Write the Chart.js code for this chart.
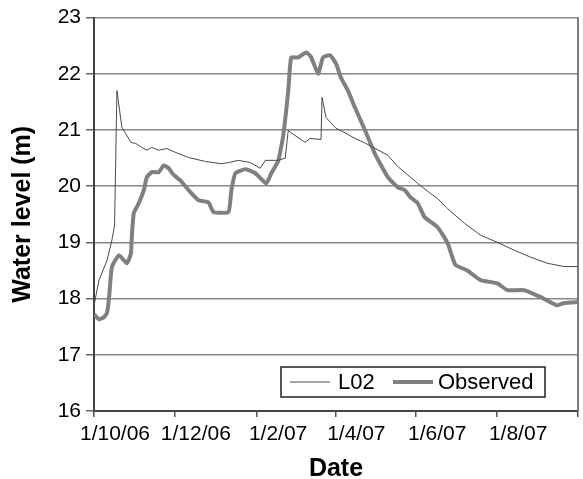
<!DOCTYPE html>
<html>
<head>
<meta charset="utf-8">
<script src="https://cdn.jsdelivr.net/npm/chart.js@4.4.0/dist/chart.umd.min.js"></script>
<style>
  html, body { margin: 0; padding: 0; background: #fff; }
  #wrap { width: 583px; height: 479px; }
</style>
</head>
<body>
<div id="wrap"><canvas id="c" width="583" height="479"></canvas></div>
<script>
// Day 0 of the x axis is 1 October 2006.
const START = Date.UTC(2006, 9, 1);
const DAY = 86400000;

const tickDates  = ['2006-10-01', '2006-12-01', '2007-02-01', '2007-04-01', '2007-06-01', '2007-08-01', '2007-10-01'];
const tickLabels = ['1/10/06', '1/12/06', '1/2/07', '1/4/07', '1/6/07', '1/8/07', ''];

// Simulated level at L02 (days since start, metres)
const l02Day   = [0, 3.8, 9.8, 13.5, 15.5, 17.3, 21.0, 27.8, 31.5, 36.0, 39.8, 43.6, 48.8, 54.8, 61.6, 71.3, 84.1, 96.1, 101.4, 108.9, 117.9, 125.4, 129.2, 138.9, 144.2, 146.5, 148.7, 159.2, 163.0, 171.2, 172.0, 175.0, 182.5, 189.3, 196.8, 204.3, 221.6, 229.1, 244.1, 253.8, 259.1, 266.6, 279.4, 291.4, 304.2, 317.0, 329.0, 341.7, 354.5, 365];
const l02Level = [17.88, 18.33, 18.68, 19.04, 19.3, 21.7, 21.05, 20.78, 20.76, 20.69, 20.64, 20.69, 20.64, 20.67, 20.6, 20.51, 20.44, 20.4, 20.42, 20.46, 20.42, 20.32, 20.46, 20.46, 20.5, 20.99, 20.95, 20.78, 20.85, 20.83, 21.58, 21.22, 21.03, 20.95, 20.85, 20.77, 20.55, 20.35, 20.05, 19.87, 19.78, 19.6, 19.34, 19.13, 19.0, 18.86, 18.74, 18.63, 18.57, 18.57];

// Observed level (days since start, metres)
const obsDay   = [0, 3.8, 7.5, 9.8, 11.3, 13.5, 18.8, 24.8, 27.8, 28.5, 30.0, 33.8, 37.6, 39.8, 43.6, 48.8, 52.6, 56.3, 60.1, 65.3, 71.3, 78.9, 86.4, 90.1, 101.4, 103.6, 106.6, 114.2, 121.7, 129.9, 133.7, 138.9, 142.7, 146.5, 148.7, 154.0, 160.0, 163.7, 169.0, 172.7, 178.0, 182.5, 186.3, 191.5, 196.8, 204.3, 211.8, 221.6, 229.1, 234.3, 238.8, 244.1, 249.3, 259.1, 266.6, 272.6, 281.6, 291.4, 304.2, 311.7, 324.5, 336.5, 349.2, 354.5, 365];
const obsLevel = [17.72, 17.63, 17.67, 17.75, 18.0, 18.56, 18.77, 18.63, 18.8, 19.09, 19.52, 19.7, 19.93, 20.16, 20.25, 20.25, 20.37, 20.32, 20.2, 20.1, 19.93, 19.75, 19.71, 19.54, 19.54, 19.93, 20.23, 20.3, 20.23, 20.05, 20.23, 20.45, 20.9, 21.7, 22.29, 22.29, 22.38, 22.3, 22.0, 22.29, 22.33, 22.18, 21.93, 21.7, 21.4, 21.0, 20.58, 20.16, 19.98, 19.93, 19.8, 19.7, 19.45, 19.27, 18.99, 18.6, 18.5, 18.33, 18.27, 18.15, 18.15, 18.03, 17.88, 17.92, 17.94];

const tickDays = tickDates.map(d => (Date.parse(d + 'T00:00:00Z') - START) / DAY);
const pts = (xs, ys) => xs.map((x, i) => ({ x: x, y: ys[i] }));

const FONT = "'Liberation Sans', Arial, sans-serif";

// Closes the plot frame on the right side.
const framePlugin = {
  id: 'frame',
  beforeDatasetsDraw(chart) {
    const { ctx, chartArea: a } = chart;
    ctx.save();
    ctx.strokeStyle = '#555';
    ctx.lineWidth = 1.5;
    ctx.beginPath();
    ctx.moveTo(a.right, a.top);
    ctx.lineTo(a.right, a.bottom);
    ctx.stroke();
    ctx.restore();
  }
};

// Boxed legend in the lower right of the plot area.
const boxLegend = {
  id: 'boxLegend',
  afterDatasetsDraw(chart) {
    const { ctx, chartArea: a } = chart;
    const w = 264, h = 30;
    const x = a.right - 33 - w, y = a.bottom - 14 - h;
    ctx.save();
    ctx.fillStyle = '#fff';
    ctx.fillRect(x, y, w, h);
    ctx.strokeStyle = '#222';
    ctx.lineWidth = 1.5;
    ctx.strokeRect(x, y, w, h);
    ctx.font = '22px ' + FONT;
    ctx.fillStyle = '#000';
    ctx.textBaseline = 'middle';
    const cy = y + h / 2;
    const items = [
      { ds: chart.data.datasets[0], lx: x + 9,   tx: x + 57 },
      { ds: chart.data.datasets[1], lx: x + 112, tx: x + 157 }
    ];
    items.forEach(it => {
      ctx.strokeStyle = it.ds.borderColor;
      ctx.lineWidth = it.ds.borderWidth;
      ctx.beginPath();
      ctx.moveTo(it.lx, cy);
      ctx.lineTo(it.lx + 40, cy);
      ctx.stroke();
      ctx.fillText(it.ds.label, it.tx, cy + 1);
    });
    ctx.restore();
  }
};

new Chart(document.getElementById('c'), {
  type: 'line',
  data: {
    datasets: [
      {
        label: 'L02',
        data: pts(l02Day, l02Level),
        borderColor: '#4a4a4a',
        borderWidth: 1,
        pointRadius: 0,
        tension: 0,
        order: 0
      },
      {
        label: 'Observed',
        data: pts(obsDay, obsLevel),
        borderColor: '#808080',
        borderWidth: 4,
        pointRadius: 0,
        tension: 0.15,
        borderJoinStyle: 'round',
        order: 1
      }
    ]
  },
  options: {
    responsive: false,
    devicePixelRatio: 1,
    animation: false,
    layout: { padding: { top: 16, right: 2, left: 0, bottom: 0 } },
    plugins: { legend: { display: false }, tooltip: { enabled: false } },
    scales: {
      x: {
        type: 'linear',
        min: 0,
        max: 365,
        afterBuildTicks(scale) { scale.ticks = tickDays.map(v => ({ value: v })); },
        afterFit(scale) { scale.height = 68; },
        ticks: {
          autoSkip: false,
          maxRotation: 0,
          minRotation: 0,
          labelOffset: 21,
          padding: 5,
          color: '#000',
          font: { family: FONT, size: 21 },
          callback(value) {
            const i = tickDays.indexOf(value);
            return i >= 0 ? tickLabels[i] : '';
          }
        },
        grid: { drawOnChartArea: false, drawTicks: true, tickLength: 6, color: '#555', lineWidth: 1.5 },
        border: { color: '#444', width: 2 },
        title: {
          display: true,
          text: 'Date',
          color: '#000',
          font: { family: FONT, size: 25, weight: 'bold' },
          padding: { top: 0, bottom: -5 }
        }
      },
      y: {
        min: 16,
        max: 23,
        afterFit(scale) { scale.width = 94; },
        ticks: {
          stepSize: 1,
          padding: 5,
          color: '#000',
          font: { family: FONT, size: 21 }
        },
        grid: { color: '#888', lineWidth: 1.5, tickLength: 8, tickColor: '#666' },
        border: { color: '#444', width: 2 },
        title: {
          display: true,
          text: 'Water level (m)',
          color: '#000',
          font: { family: FONT, size: 25, weight: 'bold' },
          padding: { top: 8, bottom: 0 }
        }
      }
    }
  },
  plugins: [framePlugin, boxLegend]
});
</script>
</body>
</html>
